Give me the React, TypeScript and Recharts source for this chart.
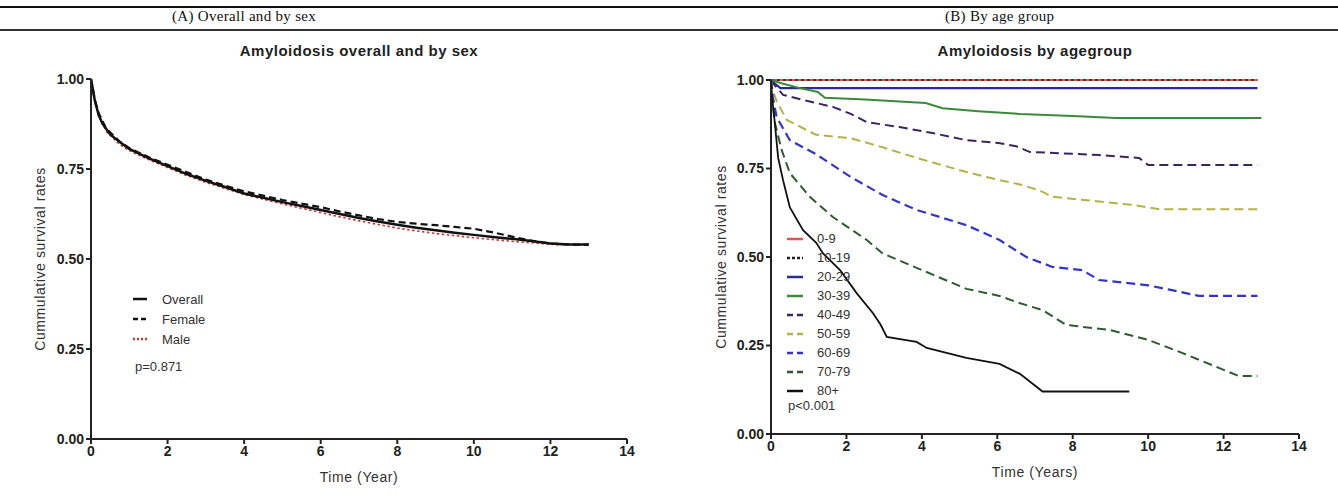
import React from 'react'
import { LineChart, Line, XAxis, YAxis, Legend } from 'recharts'

const FONT = '"Liberation Sans", Arial, sans-serif'
const SERIF = '"Liberation Serif", "Times New Roman", serif'

const xTicks = [0, 2, 4, 6, 8, 10, 12, 14]
const yTicks = [0, 0.25, 0.5, 0.75, 1]

// (A) overall and by sex
const overallT = [0, 0.05, 0.1, 0.2, 0.3, 0.42, 0.5, 0.76, 1, 1.5, 2, 2.5, 3, 3.5, 4, 4.5, 5, 5.5, 6, 6.5, 7, 7.5, 8, 8.5, 9, 9.5, 10, 10.5, 11, 11.5, 12, 12.5, 13]
const overallS = [1, 0.97, 0.94, 0.9, 0.876, 0.858, 0.846, 0.824, 0.806, 0.78, 0.758, 0.736, 0.717, 0.7, 0.682, 0.67, 0.658, 0.647, 0.636, 0.625, 0.614, 0.604, 0.595, 0.587, 0.58, 0.573, 0.567, 0.561, 0.556, 0.55, 0.543, 0.54, 0.54]
const femaleT = [0, 0.05, 0.1, 0.2, 0.4, 0.75, 1, 1.5, 2, 2.5, 3, 3.5, 4, 4.5, 5, 5.5, 6, 6.5, 7, 7.5, 8, 8.5, 9, 9.5, 10, 10.5, 11, 11.5, 12, 12.5, 13]
const femaleS = [1, 0.972, 0.942, 0.905, 0.862, 0.826, 0.808, 0.783, 0.762, 0.741, 0.721, 0.704, 0.688, 0.676, 0.664, 0.654, 0.644, 0.632, 0.621, 0.611, 0.603, 0.598, 0.594, 0.589, 0.584, 0.574, 0.562, 0.551, 0.543, 0.54, 0.54]
const maleT = [0, 0.05, 0.1, 0.2, 0.4, 0.75, 1, 1.5, 2, 2.5, 3, 3.5, 4, 4.5, 5, 5.5, 6, 6.5, 7, 7.5, 8, 8.5, 9, 9.5, 10, 10.5, 11, 11.5, 12, 12.3]
const maleS = [1, 0.968, 0.936, 0.898, 0.854, 0.818, 0.801, 0.776, 0.754, 0.732, 0.713, 0.696, 0.679, 0.666, 0.653, 0.641, 0.629, 0.617, 0.606, 0.596, 0.586, 0.578, 0.571, 0.565, 0.559, 0.554, 0.549, 0.545, 0.541, 0.538]

// (B) by age group
const ageGroups = ['0-9', '10-19', '20-29', '30-39', '40-49', '50-59', '60-69', '70-79', '80+']
const age0T = [0, 12.9]
const age0S = [1, 1]
const age10T = [0, 12.9]
const age10S = [1, 1]
const age20T = [0, 0.1, 0.25, 12.9]
const age20S = [1, 0.99, 0.977, 0.977]
const age30T = [0, 0.3, 0.77, 1.24, 1.43, 2.5, 4.1, 4.55, 5.5, 6.6, 8, 9.15, 13]
const age30S = [1, 0.99, 0.977, 0.966, 0.95, 0.945, 0.935, 0.92, 0.912, 0.904, 0.898, 0.893, 0.893]
const age40T = [0, 0.1, 0.32, 1, 1.64, 2.1, 2.54, 3.41, 4.29, 5.18, 6.03, 6.5, 6.85, 8.7, 9.76, 10, 12.9]
const age40S = [1, 0.985, 0.958, 0.94, 0.924, 0.905, 0.881, 0.867, 0.85, 0.83, 0.822, 0.813, 0.797, 0.788, 0.78, 0.76, 0.76]
const age50T = [0, 0.05, 0.15, 0.42, 1.2, 2.1, 2.96, 3.86, 5.18, 6.06, 6.6, 7.1, 7.47, 9.6, 10.3, 13]
const age50S = [1, 0.97, 0.94, 0.887, 0.845, 0.836, 0.81, 0.78, 0.74, 0.717, 0.705, 0.689, 0.67, 0.647, 0.635, 0.635]
const age60T = [0, 0.05, 0.15, 0.5, 1.2, 2.1, 2.96, 3.86, 5.18, 6.06, 6.77, 7.46, 8.25, 8.7, 10, 10.6, 11.35, 12.9]
const age60S = [1, 0.95, 0.895, 0.83, 0.79, 0.727, 0.675, 0.633, 0.59, 0.548, 0.5, 0.472, 0.463, 0.435, 0.42, 0.407, 0.39, 0.39]
const age70T = [0, 0.03, 0.1, 0.29, 0.5, 1.03, 1.64, 2.54, 2.96, 3.41, 4.29, 5.18, 6.06, 6.5, 7.2, 7.83, 8.97, 10, 10.9, 11.8, 12.4, 12.9]
const age70S = [1, 0.95, 0.88, 0.8, 0.737, 0.67, 0.613, 0.548, 0.51, 0.49, 0.45, 0.41, 0.39, 0.373, 0.35, 0.308, 0.294, 0.266, 0.229, 0.19, 0.164, 0.164]
const age80T = [0, 0.03, 0.1, 0.19, 0.32, 0.5, 0.85, 1.2, 1.38, 1.83, 2.27, 2.7, 2.9, 3.07, 3.86, 4.13, 5.18, 6.06, 6.6, 7.2, 9.5]
const age80S = [1, 0.95, 0.88, 0.78, 0.717, 0.64, 0.576, 0.54, 0.51, 0.463, 0.398, 0.342, 0.31, 0.274, 0.26, 0.243, 0.215, 0.198, 0.17, 0.12, 0.12]

const toPoints = (t: number[], s: number[]) => t.map((v, i) => ({ t: v, s: s[i] }))

const sexSeries = [
  { name: 'Male', data: toPoints(maleT, maleS), color: '#cc3333', width: 1.6, dash: '2.5 2.5', key: '2 2' },
  { name: 'Female', data: toPoints(femaleT, femaleS), color: '#111', width: 2.2, dash: '7 4', key: '5 3' },
  { name: 'Overall', data: toPoints(overallT, overallS), color: '#111', width: 2.5, dash: undefined, key: undefined },
]
const sexLegendOrder = ['Overall', 'Female', 'Male']

const ageData = [
  toPoints(age0T, age0S), toPoints(age10T, age10S), toPoints(age20T, age20S),
  toPoints(age30T, age30S), toPoints(age40T, age40S), toPoints(age50T, age50S),
  toPoints(age60T, age60S), toPoints(age70T, age70S), toPoints(age80T, age80S),
]
const ageStyle = [
  { color: '#e05555', width: 2, dash: undefined, key: undefined },
  { color: '#222', width: 1.6, dash: '3 3', key: '3 2' },
  { color: '#2a2a9c', width: 2.2, dash: undefined, key: undefined },
  { color: '#3b8a3b', width: 2, dash: undefined, key: undefined },
  { color: '#3a2560', width: 2, dash: '9 5', key: '6 4' },
  { color: '#b3b34a', width: 2, dash: '9 5', key: '6 4' },
  { color: '#3535c4', width: 2.2, dash: '9 5', key: '6 4' },
  { color: '#2f5a2f', width: 2, dash: '9 5', key: '6 4' },
  { color: '#111', width: 1.8, dash: undefined, key: undefined },
]

const tickStyle = { fontFamily: FONT, fontSize: 14, fontWeight: 'bold' as const, fill: '#222' }
const labelStyle = { fontFamily: FONT, fontSize: 14, fill: '#333', letterSpacing: 0.6 }

type Item = { name: string; color: string; width: number; key?: string }

const KeyList = ({ items, lineW, gap, rowH, note, noteGap, noteLeft }: { items: Item[]; lineW: number; gap: number; rowH: number; note: string; noteGap: number; noteLeft: number }) => (
  <div style={{ fontFamily: FONT, fontSize: 13, color: '#333' }}>
    {items.map((it) => (
      <div key={it.name} style={{ display: 'flex', alignItems: 'center', height: rowH }}>
        <svg width={lineW} height={8} style={{ display: 'block' }}>
          <line x1={0} y1={4} x2={lineW} y2={4} stroke={it.color} strokeWidth={2.5} strokeDasharray={it.key} />
        </svg>
        <span style={{ marginLeft: gap }}>{it.name}</span>
      </div>
    ))}
    <div style={{ marginTop: noteGap, marginLeft: noteLeft, lineHeight: '16px' }}>{note}</div>
  </div>
)

const axisProps = {
  stroke: '#222',
  strokeWidth: 2,
  tickSize: 5,
  tick: tickStyle,
}

const Title = ({ text, cx }: { text: string; cx: number }) => (
  <div style={{ position: 'absolute', left: cx - 200, width: 400, top: 42, textAlign: 'center', fontFamily: FONT, fontSize: 15, fontWeight: 'bold', letterSpacing: 0.5, color: '#222' }}>
    {text}
  </div>
)

export default function App() {
  const sexItems = sexLegendOrder.map((n) => sexSeries.find((s) => s.name === n)!)
  const ageItems = ageGroups.map((n, i) => ({ name: n, ...ageStyle[i] }))
  return (
    <div style={{ position: 'absolute', left: 0, top: 0, width: 1338, height: 497, background: '#fff', overflow: 'hidden' }}>
      <div style={{ position: 'absolute', left: 0, top: 6, width: 1338, height: 2, background: '#111' }} />
      <div style={{ position: 'absolute', left: 0, top: 29, width: 1338, height: 2, background: '#333' }} />
      <div style={{ position: 'absolute', left: 172, top: 8, fontFamily: SERIF, fontSize: 15, letterSpacing: 0.3, lineHeight: '17px', color: '#111' }}>(A) Overall and by sex</div>
      <div style={{ position: 'absolute', left: 945, top: 8, fontFamily: SERIF, fontSize: 15, letterSpacing: 0.3, lineHeight: '17px', color: '#111' }}>(B) By age group</div>

      <Title text="Amyloidosis overall and by sex" cx={359} />
      <Title text="Amyloidosis by agegroup" cx={1035} />

      <div style={{ position: 'absolute', left: 0, top: 0 }}>
        <LineChart width={660} height={497} margin={{ top: 79, right: 33, bottom: 13, left: 21 }}>
          <XAxis dataKey="t" type="number" domain={[0, 14]} ticks={xTicks} height={45} allowDuplicatedCategory={false} {...axisProps}
            label={{ value: 'Time (Year)', position: 'insideBottom', offset: 2, style: labelStyle }} />
          <YAxis dataKey="s" type="number" domain={[0, 1]} ticks={yTicks} width={70} tickFormatter={(v: number) => v.toFixed(2)} {...axisProps}
            label={{ value: 'Cummulative survival rates', angle: -90, position: 'insideLeft', offset: 19, style: { ...labelStyle, textAnchor: 'middle' } }} />
          {sexSeries.map((s) => (
            <Line key={s.name} data={s.data} dataKey="s" name={s.name} type="linear" stroke={s.color} strokeWidth={s.width}
              strokeDasharray={s.dash} dot={false} activeDot={false} isAnimationActive={false} />
          ))}
          <Legend layout="vertical" align="center" verticalAlign="middle" wrapperStyle={{ left: 133, top: 289, width: 'auto', height: 'auto' }}
            content={() => <KeyList items={sexItems} lineW={14} gap={15} rowH={20} note="p=0.871" noteGap={10} noteLeft={2} />} />
        </LineChart>
      </div>

      <div style={{ position: 'absolute', left: 680, top: 0 }}>
        <LineChart width={658} height={497} margin={{ top: 80, right: 39, bottom: 18, left: 21 }}>
          <XAxis dataKey="t" type="number" domain={[0, 14]} ticks={xTicks} height={45} allowDuplicatedCategory={false} {...axisProps}
            label={{ value: 'Time (Years)', position: 'insideBottom', offset: 2, style: labelStyle }} />
          <YAxis dataKey="s" type="number" domain={[0, 1]} ticks={yTicks} width={70} tickFormatter={(v: number) => v.toFixed(2)} {...axisProps}
            label={{ value: 'Cummulative survival rates', angle: -90, position: 'insideLeft', offset: 20, style: { ...labelStyle, textAnchor: 'middle' } }} />
          {ageGroups.map((g, i) => (
            <Line key={g} data={ageData[i]} dataKey="s" name={g} type="linear" stroke={ageStyle[i].color} strokeWidth={ageStyle[i].width}
              strokeDasharray={ageStyle[i].dash} dot={false} activeDot={false} isAnimationActive={false} />
          ))}
          <Legend layout="vertical" align="center" verticalAlign="middle" wrapperStyle={{ left: 107, top: 229, width: 'auto', height: 'auto' }}
            content={() => <KeyList items={ageItems} lineW={16} gap={14} rowH={19} note="p<0.001" noteGap={-2} noteLeft={1} />} />
        </LineChart>
      </div>
    </div>
  )
}
